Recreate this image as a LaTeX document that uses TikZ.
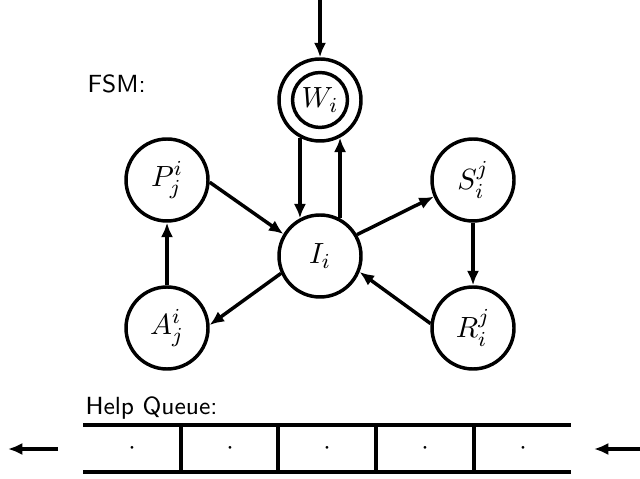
\documentclass[tikz,border=0pt]{standalone}
\usetikzlibrary{arrows.meta}
\begin{document}
\begin{tikzpicture}[x=0.375pt,y=-0.375pt,
  state/.style={circle,draw,line width=1.3pt,minimum size=30.75pt,inner sep=0pt,
    font=\fontsize{11}{13}\selectfont},
  inner ring/.style={circle,draw,line width=1.3pt,minimum size=20.6pt,inner sep=0pt,
    font=\fontsize{11}{13}\selectfont},
  link/.style={line width=1.3pt,-{Latex[length=5.4pt,width=4.6pt]}},
  wall/.style={line width=1.3pt},
  caption/.style={font=\fontsize{9.3}{11}\selectfont\sffamily,anchor=base west,inner sep=0pt},
  slot/.style={inner sep=0pt}]
\useasboundingbox (0,0) rectangle (640,479);

% state machine
\node[state] (W) at (320,100) {};
\node[inner ring] (Win) at (320,100) {$W_i$};
\node[state] (I) at (320,256) {$I_i$};
\node[state] (P) at (167,180) {$P^i_j$};
\node[state] (S) at (473,180) {$S^j_i$};
\node[state] (A) at (167,328) {$A^i_j$};
\node[state] (R) at (473,328) {$R^j_i$};

\node[caption] (fsm) at (87,93) {FSM:};

\coordinate (entry) at (320,0);
\draw[link] (entry) -- (W);
\draw[link] (W.242) -- (I.118);
\draw[link] (I.62) -- (W.298);
\draw[link] (P.-3) -- (I.149);
\draw[link] (I.30) -- (S.203);
\draw[link] (S) -- (R);
\draw[link] (R.174) -- (I.-22);
\draw[link] (I.204) -- (A.4);
\draw[link] (A) -- (P);

% help queue
\node[caption] (hq) at (85,414) {Help Queue:};
\draw[wall] (83,425) -- (571,425);
\draw[wall] (83,472) -- (571,472);
\foreach \x in {181,278,376,474} \draw[wall] (\x,425) -- (\x,472);
\foreach \x [count=\k] in {132,230,327,425,523}
  \node[slot] (q\k) at (\x,449) {$\cdot$};

\coordinate (outS) at (58,449);
\coordinate (outE) at (8,449);
\coordinate (inS) at (640,449);
\coordinate (inE) at (594,449);
\draw[link] (outS) -- (outE);
\draw[link] (inS) -- (inE);
\end{tikzpicture}
\end{document}
